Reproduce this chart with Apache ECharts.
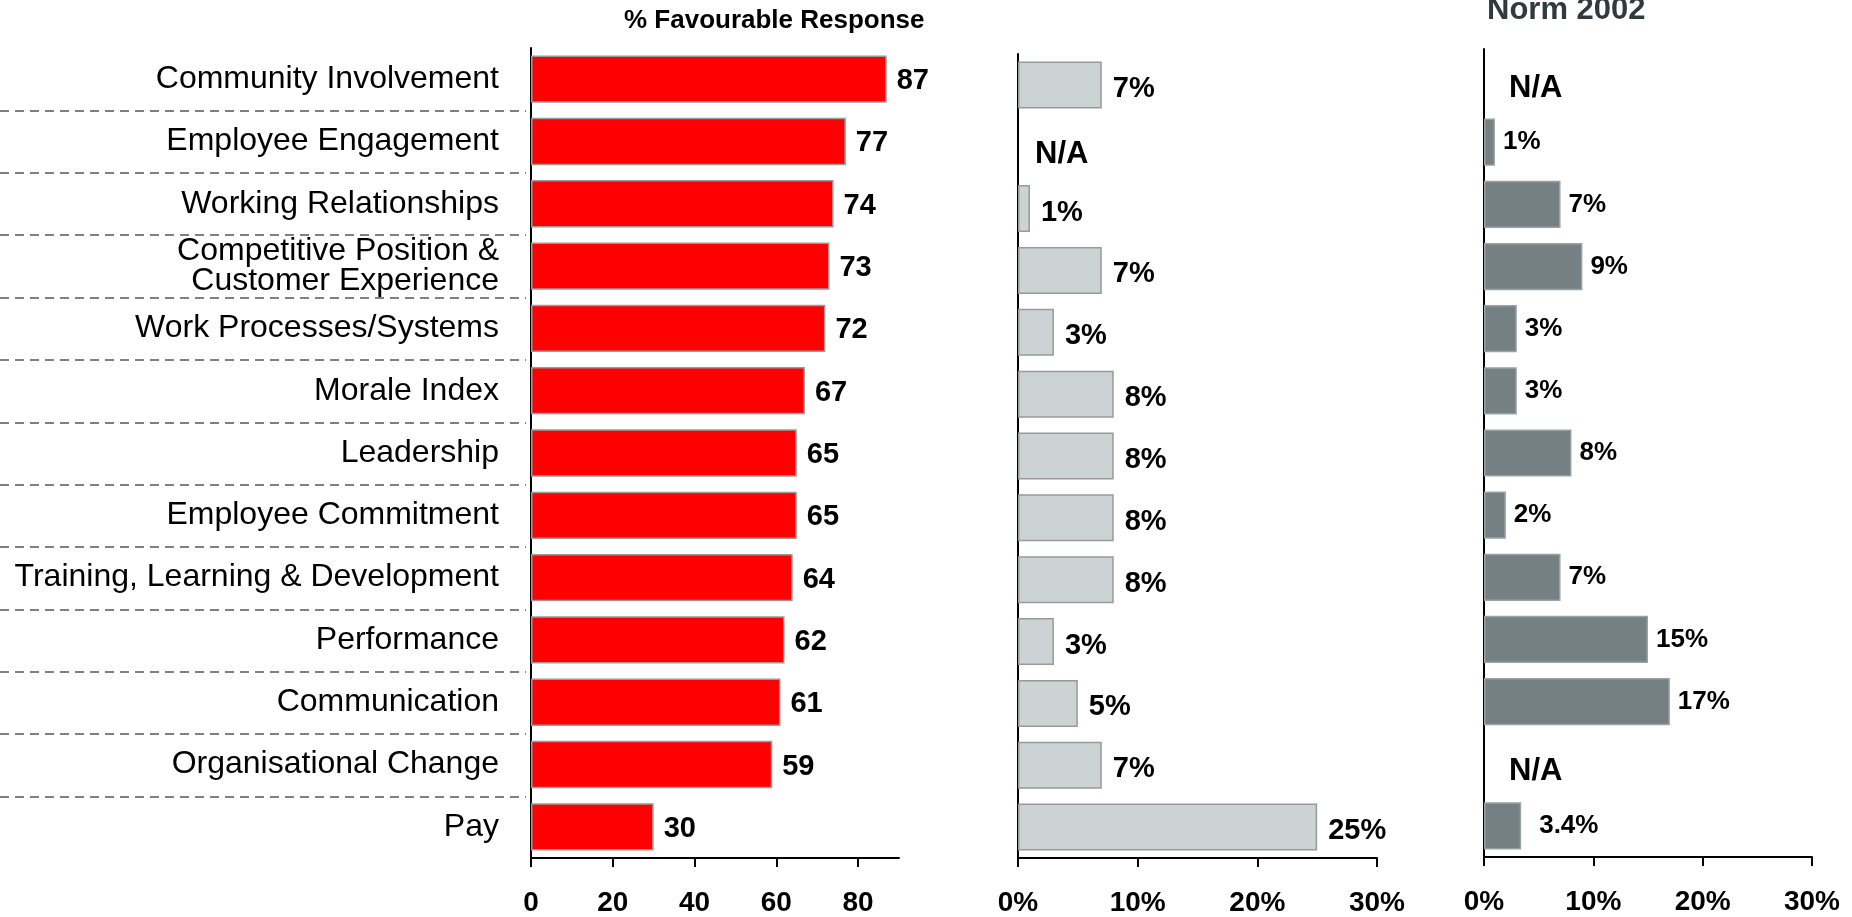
<!DOCTYPE html>
<html>
<head>
<meta charset="utf-8">
<script src="https://cdn.jsdelivr.net/npm/echarts@6/dist/echarts.min.js"></script>
<style>
html, body { margin: 0; padding: 0; background: #fff; }
#myChart { width: 1852px; height: 917px; }
</style>
</head>
<body>
<div id="myChart"></div>
<script>
// categories, top to bottom
var categories = [
  'Community Involvement',
  'Employee Engagement',
  'Working Relationships',
  'Competitive Position &\nCustomer Experience',
  'Work Processes/Systems',
  'Morale Index',
  'Leadership',
  'Employee Commitment',
  'Training, Learning & Development',
  'Performance',
  'Communication',
  'Organisational Change',
  'Pay'
];
// % favourable
var favourable = [87, 77, 74, 73, 72, 67, 65, 65, 64, 62, 61, 59, 30];
// middle panel (null = N/A)
var diffMiddle = [7, null, 1, 7, 3, 8, 8, 8, 8, 3, 5, 7, 25];
// Norm 2002 panel (null = N/A)
var diffNorm = [null, 1, 7, 9, 3, 3, 8, 2, 7, 15, 17, null, 3.4];
// tick labels
var favTicks = [0, 20, 40, 60, 80];
var pctTicks = [0, 10, 20, 30];
var naText = 'N/A';

var FONT = "'Liberation Sans', Arial, sans-serif";
var axisLineStyle = { color: '#000', width: 2 };

// N/A rows get a zero bar that only carries the text
function withNA(arr, naDist, naOff) {
  return arr.map(function (v) {
    if (v === null) {
      return {
        value: 0,
        itemStyle: { borderWidth: 0 },
        label: { formatter: naText, fontSize: 31, distance: naDist, offset: [0, naOff] }
      };
    }
    // decimal value label sits a bit further out in the original
    if (v % 1 !== 0) {
      return { value: v, label: { distance: 18 } };
    }
    return v;
  });
}

function valueAxis(grid, max, ticks, fmt) {
  return {
    gridIndex: grid,
    type: 'value',
    min: 0,
    max: max,
    axisLine: { show: true, lineStyle: axisLineStyle },
    axisTick: { show: true, length: 9, customValues: ticks, lineStyle: axisLineStyle },
    axisLabel: {
      customValues: ticks,
      margin: 31,
      fontSize: 28,
      fontWeight: 'bold',
      color: '#000',
      formatter: fmt
    },
    splitLine: { show: false }
  };
}

function catAxis(grid, showLabels) {
  return {
    gridIndex: grid,
    type: 'category',
    data: categories,
    inverse: true,
    axisLine: { show: true, lineStyle: axisLineStyle },
    axisTick: { show: false },
    axisLabel: showLabels ? {
      margin: 32,
      fontSize: 32,
      lineHeight: 30,
      color: '#000'
    } : { show: false },
    splitLine: { show: false }
  };
}

var pctFmt = function (v) { return v + '%'; };

var option = {
  animation: false,
  backgroundColor: '#fff',
  textStyle: { fontFamily: FONT },
  title: [
    {
      text: '% Favourable Response',
      left: 624, top: 8, padding: 0,
      textStyle: { fontSize: 26, fontWeight: 'bold', color: '#000', fontFamily: FONT }
    },
    {
      text: 'Norm 2002',
      left: 1487, top: -5, padding: 0,
      textStyle: { fontSize: 31, fontWeight: 'bold', color: '#2f3a3c', fontFamily: FONT }
    }
  ],
  grid: [
    { left: 531, top: 48, width: 368, height: 811 },
    { left: 1018, top: 54, width: 359, height: 805 },
    { left: 1484, top: 49, width: 328, height: 808 },
    { left: 0, top: 48, width: 526, height: 811 }
  ],
  xAxis: [
    valueAxis(0, 90, favTicks, null),
    valueAxis(1, 30, pctTicks, pctFmt),
    valueAxis(2, 30, pctTicks, pctFmt),
    { gridIndex: 3, type: 'value', show: false }
  ],
  yAxis: [
    catAxis(0, true),
    catAxis(1, false),
    catAxis(2, false),
    {
      gridIndex: 3,
      type: 'category',
      data: categories,
      inverse: true,
      axisLine: { show: false },
      axisTick: { show: false },
      axisLabel: { show: false },
      splitLine: {
        show: true,
        showMinLine: false,
        showMaxLine: false,
        lineStyle: { color: '#808080', width: 2, type: [9, 6] }
      }
    }
  ],
  series: [
    {
      type: 'bar',
      xAxisIndex: 0, yAxisIndex: 0,
      data: favourable,
      barWidth: '76%',
      itemStyle: { color: '#ff0000', borderColor: '#9a9a9a', borderWidth: 1.5 },
      label: {
        show: true, position: 'right', distance: 10, offset: [0, 2],
        fontSize: 29, fontWeight: 'bold', color: '#000'
      }
    },
    {
      type: 'bar',
      xAxisIndex: 1, yAxisIndex: 1,
      data: withNA(diffMiddle, 17, 8),
      barWidth: '76%',
      itemStyle: { color: '#ccd3d5', borderColor: '#999', borderWidth: 1.5 },
      label: {
        show: true, position: 'right', distance: 11, offset: [0, 4],
        fontSize: 29, fontWeight: 'bold', color: '#000',
        formatter: function (p) { return p.value + '%'; }
      }
    },
    {
      type: 'bar',
      xAxisIndex: 2, yAxisIndex: 2,
      data: withNA(diffNorm, 25, 8),
      barWidth: '76%',
      itemStyle: { color: '#748084', borderColor: '#9aa2a4', borderWidth: 1.5 },
      label: {
        show: true, position: 'right', distance: 8, offset: [0, 0],
        fontSize: 26, fontWeight: 'bold', color: '#000',
        formatter: function (p) { return p.value + '%'; }
      }
    }
  ]
};

var myChart = echarts.init(document.getElementById('myChart'));
myChart.setOption(option);
</script>
</body>
</html>
